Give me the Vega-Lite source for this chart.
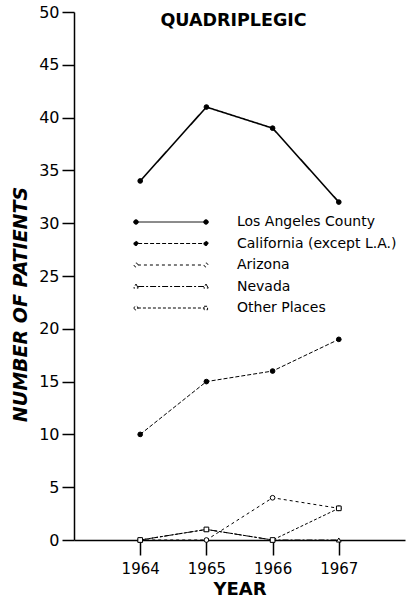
{
  "$schema": "https://vega.github.io/schema/vega-lite/v6.json",
  "width": 331,
  "height": 528,
  "autosize": {"type": "none"},
  "padding": {"left": 74, "top": 12, "right": 8, "bottom": 60},
  "background": "white",
  "title": {
    "text": "QUADRIPLEGIC",
    "font": "DejaVu Sans",
    "fontSize": 17.5,
    "fontWeight": "bold",
    "color": "black",
    "anchor": "middle",
    "dx": -6,
    "dy": 43,
    "offset": 0,
    "baseline": "bottom"
  },
  "data": {
    "values": [
      {"series": "Los Angeles County", "year": 1964, "patients": 34},
      {"series": "Los Angeles County", "year": 1965, "patients": 41},
      {"series": "Los Angeles County", "year": 1966, "patients": 39},
      {"series": "Los Angeles County", "year": 1967, "patients": 32},
      {"series": "California (except L.A.)", "year": 1964, "patients": 10},
      {"series": "California (except L.A.)", "year": 1965, "patients": 15},
      {"series": "California (except L.A.)", "year": 1966, "patients": 16},
      {"series": "California (except L.A.)", "year": 1967, "patients": 19},
      {"series": "Arizona", "year": 1964, "patients": 0},
      {"series": "Arizona", "year": 1965, "patients": 0},
      {"series": "Arizona", "year": 1966, "patients": 4},
      {"series": "Arizona", "year": 1967, "patients": 3},
      {"series": "Nevada", "year": 1964, "patients": 0},
      {"series": "Nevada", "year": 1965, "patients": 1},
      {"series": "Nevada", "year": 1966, "patients": 0},
      {"series": "Nevada", "year": 1967, "patients": 0},
      {"series": "Other Places", "year": 1964, "patients": 0},
      {"series": "Other Places", "year": 1965, "patients": 1},
      {"series": "Other Places", "year": 1966, "patients": 0},
      {"series": "Other Places", "year": 1967, "patients": 3}
    ]
  },
  "encoding": {
    "x": {
      "field": "year",
      "type": "quantitative",
      "scale": {"domain": [1963, 1968], "nice": false, "zero": false},
      "axis": {
        "title": "YEAR",
        "values": [1964, 1965, 1966, 1967],
        "format": "d",
        "grid": false,
        "domainColor": "black",
        "domainWidth": 1.5,
        "tickColor": "black",
        "tickSize": 15,
        "tickWidth": 1.5,
        "labelFont": "DejaVu Sans",
        "labelFontSize": 15,
        "labelColor": "black",
        "labelPadding": 6,
        "titleFont": "DejaVu Sans",
        "titleFontSize": 18,
        "titleFontWeight": "bold",
        "titleColor": "black",
        "titlePadding": 4
      }
    },
    "y": {
      "field": "patients",
      "type": "quantitative",
      "scale": {"domain": [0, 50], "nice": false},
      "axis": {
        "title": "NUMBER OF PATIENTS",
        "values": [0, 5, 10, 15, 20, 25, 30, 35, 40, 45, 50],
        "grid": false,
        "domainColor": "black",
        "domainWidth": 1.5,
        "tickColor": "black",
        "tickSize": 12,
        "tickWidth": 1.5,
        "labelFont": "DejaVu Sans",
        "labelFontSize": 16,
        "labelColor": "black",
        "labelPadding": 3,
        "titleFont": "DejaVu Sans",
        "titleFontSize": 19,
        "titleFontWeight": "bold",
        "titleFontStyle": "italic",
        "titleColor": "black",
        "titleX": -54,
        "titleY": 292,
        "titleBaseline": "middle",
        "titleAlign": "center"
      }
    }
  },
  "layer": [
    {
      "mark": {"type": "line", "color": "black"},
      "encoding": {
        "strokeDash": {
          "field": "series",
          "type": "nominal",
          "scale": {
            "domain": ["Los Angeles County", "California (except L.A.)", "Arizona", "Nevada", "Other Places"],
            "range": [[1, 0], [4, 2], [3, 3], [6, 2, 2, 2], [3, 2]]
          },
          "legend": {
            "orient": "none",
            "legendX": 90,
            "legendY": 203,
            "title": null,
            "symbolType": "M-9.45,0H9.45",
            "symbolSize": 49,
            "symbolStrokeColor": "black",
            "symbolStrokeWidth": 1,
            "labelOffset": 59,
            "labelFont": "DejaVu Sans",
            "labelFontSize": 14,
            "labelColor": "black",
            "rowPadding": 7.5,
            "encode": {
              "symbols": {
                "update": {
                  "shape": {"signal": "datum.value === 'Los Angeles County' ? 'M-9.35,0H9.35M-10.65,0a0.65,0.65 0 1,0 1.3,0a0.65,0.65 0 1,0 -1.3,0M9.35,0a0.65,0.65 0 1,0 1.3,0a0.65,0.65 0 1,0 -1.3,0' : datum.value === 'California (except L.A.)' ? 'M-9.4,0H9.4M-10.6,0a0.6,0.6 0 1,0 1.2,0a0.6,0.6 0 1,0 -1.2,0M9.4,0a0.6,0.6 0 1,0 1.2,0a0.6,0.6 0 1,0 -1.2,0' : datum.value === 'Arizona' ? 'M-9.45,0H9.45M-10.55,0a0.55,0.55 0 1,0 1.1,0a0.55,0.55 0 1,0 -1.1,0M9.45,0a0.55,0.55 0 1,0 1.1,0a0.55,0.55 0 1,0 -1.1,0' : datum.value === 'Nevada' ? 'M-9.4,0H9.4M-10,-0.7L-9.35,0.45L-10.65,0.45ZM10,-0.7L10.65,0.45L9.35,0.45Z' : 'M-9.45,0H9.45M-10.55,0a0.55,0.55 0 1,0 1.1,0a0.55,0.55 0 1,0 -1.1,0M9.45,-0.5h1v1h-1Z'"},
                  "fill": {"signal": "datum.value === 'Los Angeles County' || datum.value === 'California (except L.A.)' ? 'black' : 'white'"},
                  "stroke": {"value": "black"},
                  "opacity": {"value": 1}
                }
              }
            }
          }
        },
        "strokeWidth": {
          "condition": {"test": "datum.series === 'Los Angeles County'", "value": 1.6},
          "value": 1
        }
      }
    },
    {
      "mark": {"type": "point", "filled": true, "stroke": "black", "strokeWidth": 1, "opacity": 1, "size": 22},
      "encoding": {
        "shape": {
          "condition": [
            {"test": "datum.series === 'Nevada'", "value": "triangle-up"},
            {"test": "datum.series === 'Other Places'", "value": "square"}
          ],
          "value": "circle"
        },
        "fill": {
          "condition": {"test": "datum.series === 'Los Angeles County' || datum.series === 'California (except L.A.)'", "value": "black"},
          "value": "white"
        }
      }
    }
  ],
  "config": {"view": {"stroke": null}, "font": "DejaVu Sans"}
}
